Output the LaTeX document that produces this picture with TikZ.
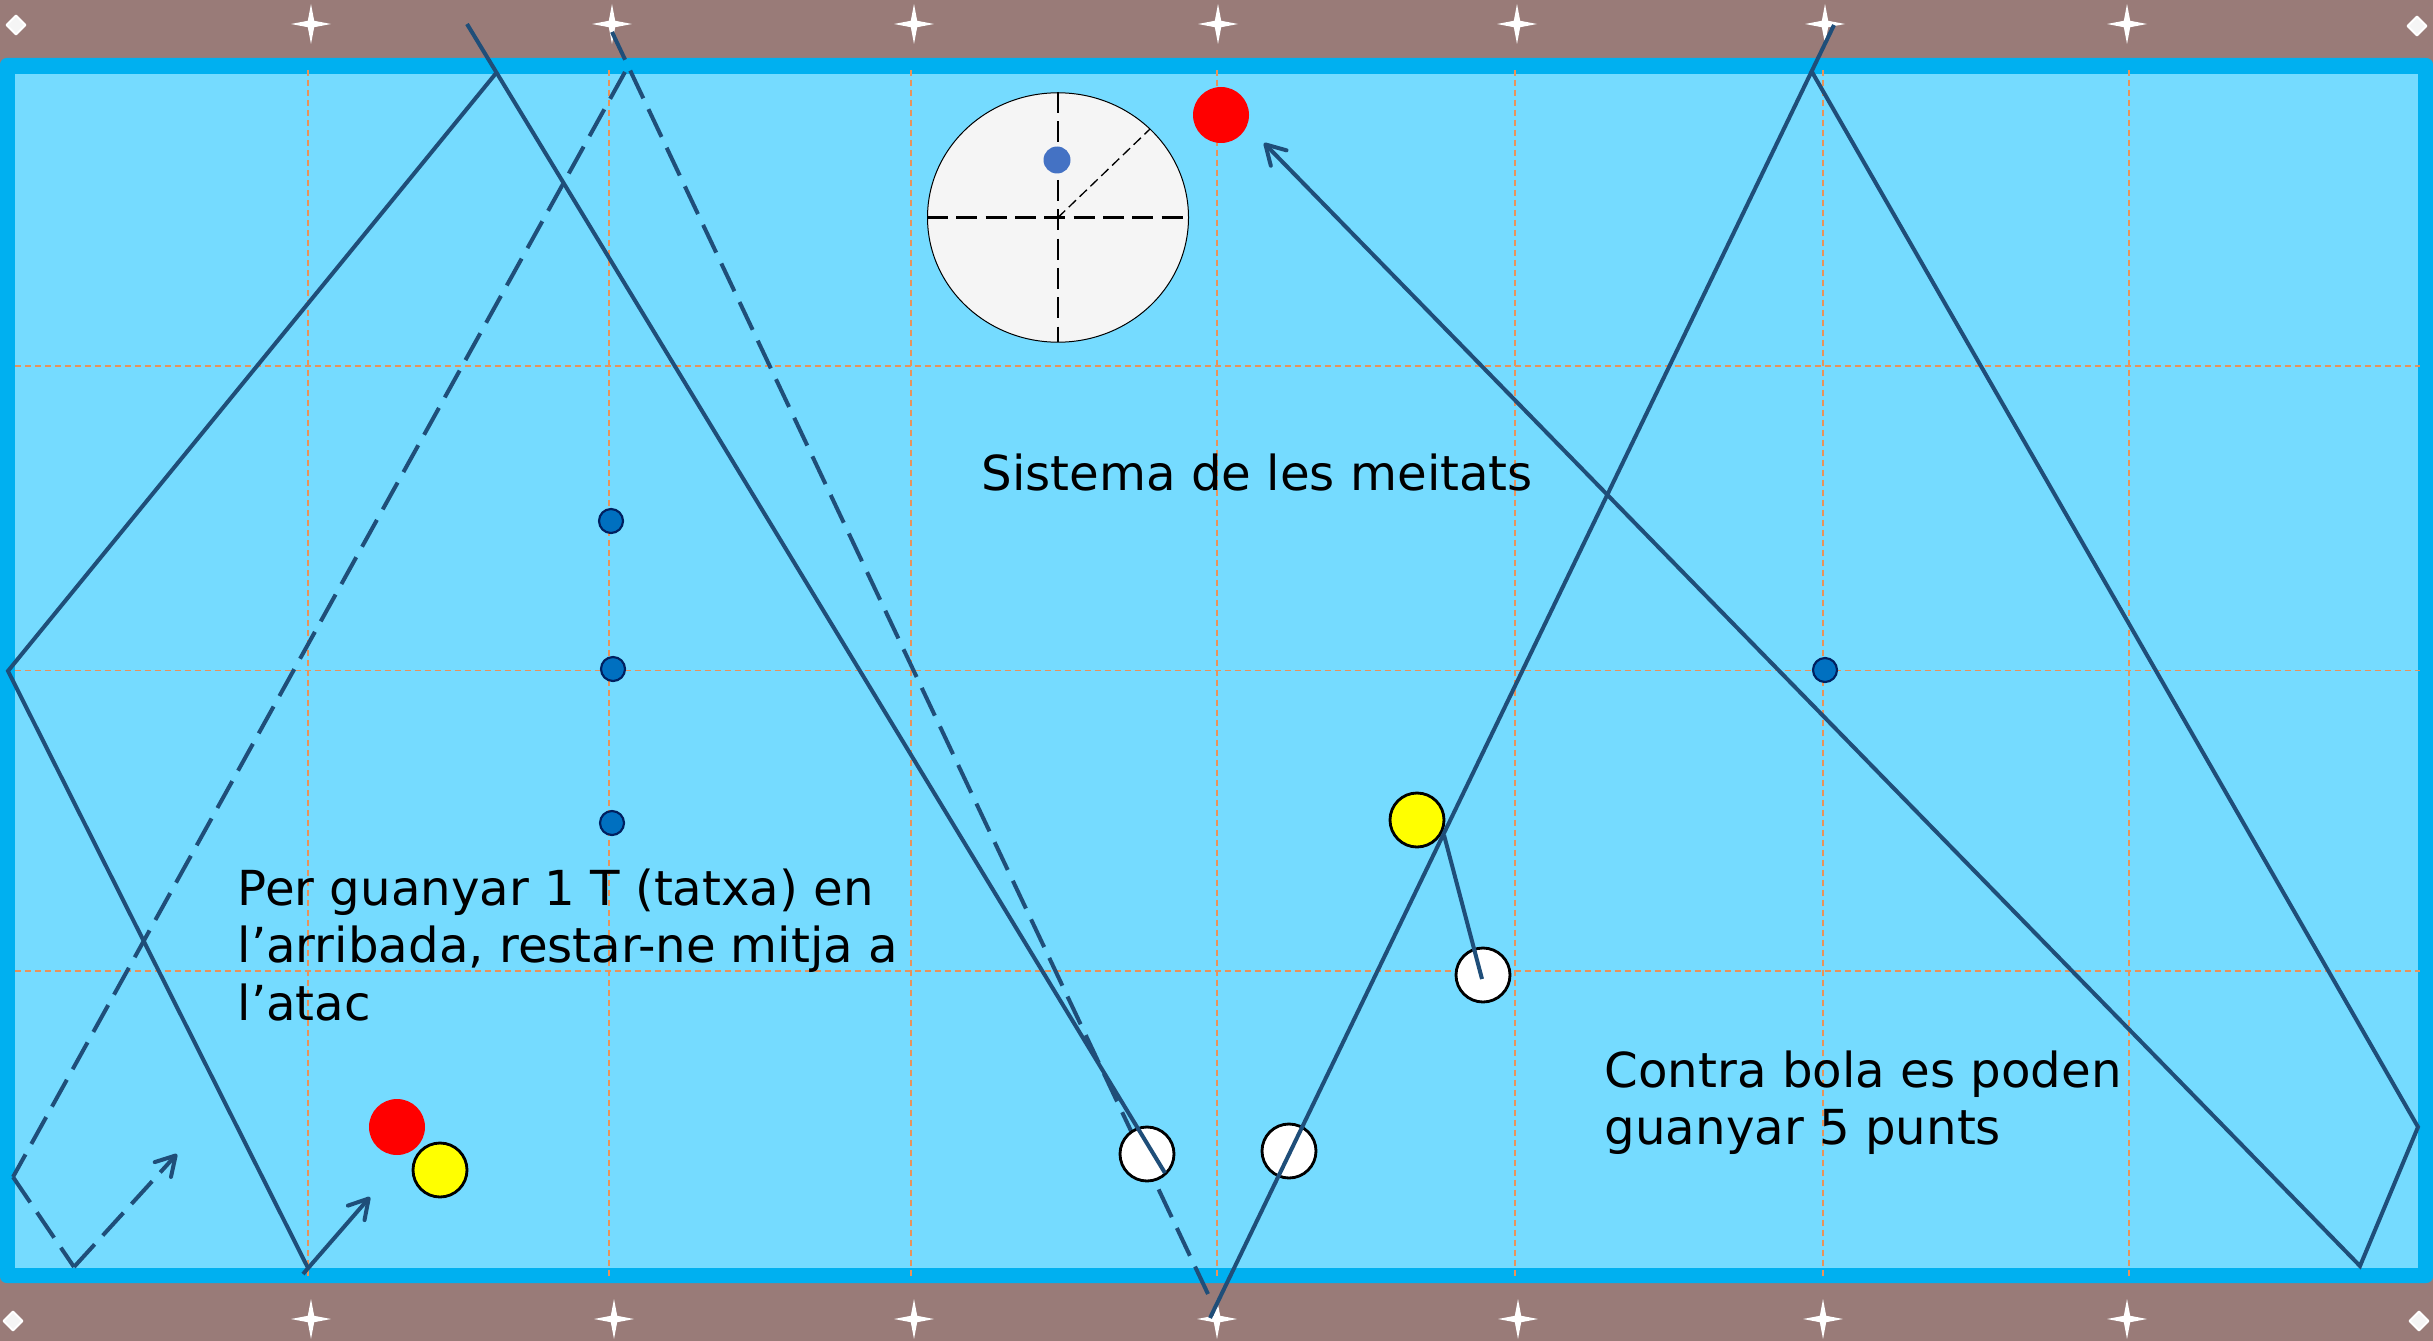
\documentclass[tikz,border=0pt]{standalone}
\usepackage{fontspec}
\setmainfont{DejaVu Sans}
\usetikzlibrary{arrows.meta}
\definecolor{brownbg}{HTML}{997B78}
\definecolor{framec}{HTML}{00B0F0}
\definecolor{cloth}{HTML}{75DBFF}
\definecolor{gridc}{HTML}{E8935A}
\definecolor{trackc}{HTML}{1F4E79}
\definecolor{dotc}{HTML}{0070C0}
\definecolor{dotline}{HTML}{002060}
\definecolor{spotc}{HTML}{4472C4}
\definecolor{ballyc}{HTML}{FFFF00}
\definecolor{ballrc}{HTML}{FF0000}
\definecolor{circc}{HTML}{F5F5F5}
\tikzset{
  x=0.3pt,y=-0.3pt,
  gridline/.style={gridc,line width=0.4pt,dash pattern=on 1.9pt off 1.1pt},
  track/.style={trackc,line width=1.2pt,line join=miter},
  dtrack/.style={track,dash pattern=on 9.2pt off 3.6pt},
  barb/.style={-{Straight Barb[length=5.7pt,width=6.6pt,line width=1.2pt,round]}},
  ballw/.style={circle,draw=black,fill=white,line width=0.85pt,minimum size=16.2pt,inner sep=0pt},
  bally/.style={ballw,fill=ballyc},
  ballr/.style={circle,fill=ballrc,minimum size=16.8pt,inner sep=0pt},
  dot/.style={circle,draw=dotline,fill=dotc,line width=0.65pt,minimum size=7.2pt,inner sep=0pt},
  label/.style={anchor=base west,inner sep=0pt,font=\fontsize{14.47}{17.1}\selectfont},
}
\newcommand{\sparkle}[2]{\fill[white] (#1,#2-20) -- (#1+3.2,#2-3.2) -- (#1+20,#2) -- (#1+3.2,#2+3.2) -- (#1,#2+20) -- (#1-3.2,#2+3.2) -- (#1-20,#2) -- (#1-3.2,#2-3.2) -- cycle;}
\newcommand{\gem}[2]{\fill[circc,draw=white,line width=0.6pt,line join=round] (#1,#2-9.5) -- (#1+9.5,#2) -- (#1,#2+9.5) -- (#1-9.5,#2) -- cycle;}
\begin{document}
\begin{tikzpicture}
\useasboundingbox (0,0) rectangle (2433,1341);
\fill[brownbg] (0,0) rectangle (2433,1341);
\fill[framec,rounded corners=2pt] (0,58) rectangle (2433,1283);
\fill[cloth] (15,74) rectangle (2418,1268);
% diamonds and stars
\gem{16}{25}\gem{2417}{26}\gem{13}{1321}\gem{2419}{1321}
\foreach \x in {311,612,914,1218,1517,1825,2127} {\sparkle{\x}{24}}
\foreach \x in {311,614,914,1217,1518,1823,2127} {\sparkle{\x}{1319}}
% grid
\foreach \x in {308,609,911,1217,1515,1823,2129} {\draw[gridline] (\x,70) -- (\x,1276);}
\foreach \y in {366,670.5,971} {\draw[gridline] (15,\y) -- (2420,\y);}
% diamond-system circle
\coordinate (cc) at (1058,217.5);
\fill[circc,draw=black,line width=0.3pt] (cc) ellipse [x radius=130.5,y radius=124.7];
\coordinate (ch1) at (927,217.5);\coordinate (ch2) at (1183,217.5);
\coordinate (cv1) at (1058,92);\coordinate (cv2) at (1058,342);
\coordinate (cd) at (1150,129);
\draw[black,line width=0.8pt,dash pattern=on 6.3pt off 2.5pt] (ch1) -- (ch2);
\draw[black,line width=0.8pt,dash pattern=on 6.3pt off 2.5pt] (cv1) -- (cv2);
\draw[black,line width=0.4pt,dash pattern=on 3pt off 1.5pt] (cc) -- (cd);
\node[circle,fill=spotc,minimum size=8.1pt,inner sep=0pt] (spot) at (1057,160) {};
% dashed trajectories
\coordinate (da) at (612,32);\coordinate (db) at (1208,1294);
\draw[dtrack] (da) -- (db);
\coordinate (e1) at (625,72);\coordinate (e2) at (13,1177);\coordinate (e3) at (74,1267);\coordinate (e4) at (177,1154);
\draw[dtrack] (e1) -- (e2);
\draw[dtrack] (e2) -- (e3);
\draw[dtrack,barb] (e3) -- (e4);
% balls
\node[ballw] (w1) at (1147,1154) {};
\node[ballw] (w2) at (1289,1151) {};
\node[ballw] (w3) at (1483,975) {};
\node[bally] (y1) at (440,1170) {};
\node[bally] (y2) at (1417,820) {};
\node[ballr] (r1) at (397,1127) {};
\node[ballr] (r2) at (1221,115) {};
% solid trajectories
\coordinate (a0) at (467,24);\coordinate (a1) at (497,72);\coordinate (a2) at (1165,1173);
\coordinate (a3) at (8,671);\coordinate (a4) at (308,1268);\coordinate (a5) at (303,1274);\coordinate (a6) at (370,1197);
\draw[track] (a0) -- (a2);
\draw[track] (a1) -- (a3) -- (a4);
\draw[track,barb] (a5) -- (a6);
\coordinate (b0) at (1834,25);\coordinate (b1) at (1210,1318);\coordinate (b2) at (1812,72);
\coordinate (b3) at (2418,1127);\coordinate (b4) at (2360,1266);\coordinate (b5) at (1264,143);
\draw[track] (b0) -- (b1);
\draw[track,barb] (b2) -- (b3) -- (b4) -- (b5);
\coordinate (c0) at (1444,835);\coordinate (c1) at (1482,979);
\draw[track] (c0) -- (c1);
% sight dots
\node[dot] (d1) at (611,521) {};
\node[dot] (d2) at (613,669) {};
\node[dot] (d3) at (612,823) {};
\node[dot] (d4) at (1825,670) {};
% labels
\node[label] (t1) at (981,490) {Sistema de les meitats};
\node[label] (t2) at (237,905) {Per guanyar 1 T (tatxa) en};
\node[label] (t3) at (237,962.5) {l’arribada, restar-ne mitja a};
\node[label] (t4) at (237,1020) {l’atac};
\node[label] (t5) at (1604,1087) {Contra bola es poden};
\node[label] (t6) at (1604,1144) {guanyar 5 punts};
\end{tikzpicture}
\end{document}
